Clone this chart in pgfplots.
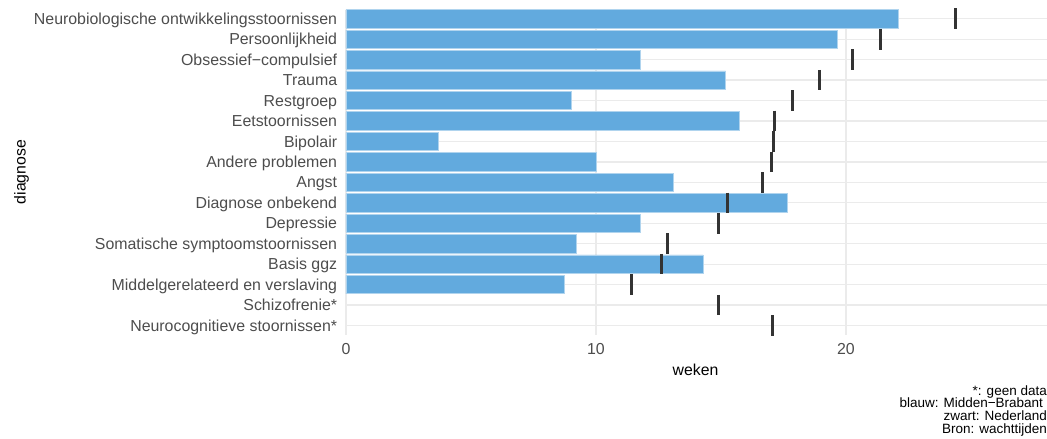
\documentclass[border=0pt]{standalone}
\usepackage{fontspec}
\setmainfont{Liberation Sans}
\usepackage{pgfplots}
\pgfplotsset{compat=1.18}
\usetikzlibrary{plotmarks}
\definecolor{barblue}{RGB}{98,170,222}
\definecolor{baredge}{RGB}{176,212,238}
\definecolor{marknl}{RGB}{51,51,51}
\definecolor{gridgray}{RGB}{235,235,235}
\definecolor{labgray}{RGB}{77,77,77}
\begin{document}
\begin{tikzpicture}
\useasboundingbox (-346bp,-104.3bp) rectangle (701bp,334.7bp);
\begin{axis}[
  at={(0,0)}, anchor=south west,
  width=701bp, height=325.1bp, scale only axis,
  xmin=0, xmax=28.04, ymin=0.55, ymax=16.45,
  axis line style={draw=none},
  major tick length=0pt,
  xtick={0,10,20}, ytick={1,...,16},
  yticklabels={Neurocognitieve stoornissen*, Schizofrenie*, Middelgerelateerd en verslaving, Basis ggz, Somatische symptoomstoornissen, Depressie, Diagnose onbekend, Angst, Andere problemen, Bipolair, Eetstoornissen, Restgroep, Trauma, Obsessief−compulsief, Persoonlijkheid, Neurobiologische ontwikkelingsstoornissen},
  grid=major, major grid style={gridgray, line width=1.3bp},
  /pgf/number format/assume math mode=true,
  ticklabel style={font=\fontsize{15.9bp}{18bp}\selectfont, text=labgray, inner sep=0pt},
  yticklabel style={anchor=base east, xshift=-8.7bp, yshift=-5.6bp},
  xticklabel style={anchor=base, yshift=-19.9bp},
  xlabel={weken}, ylabel={diagnose},
  label style={font=\fontsize{15.8bp}{18bp}\selectfont, text=black, inner sep=0pt},
  xlabel style={at={(axis description cs:0.4986,0)}, anchor=base, yshift=-40.3bp},
  ylabel style={at={(axis description cs:-0.4629,0.5)}, anchor=center, rotate=0},
  clip=false,
]
\addplot[xbar, bar width=0.9, fill=barblue, draw=baredge, line width=0.7bp] coordinates {
  (22.09,16) (19.64,15) (11.77,14) (15.19,13) (9.01,12) (15.73,11) (3.69,10)
  (10.03,9) (13.08,8) (17.67,7) (11.76,6) (9.20,5) (14.29,4) (8.72,3)
};
\addplot[only marks, mark=|, mark size=10.3bp, mark options={line width=3bp, draw=marknl}] coordinates {
  (24.39,16) (21.36,15) (20.25,14) (18.92,13) (17.87,12) (17.13,11) (17.08,10)
  (17.01,9) (16.65,8) (15.28,7) (14.91,6) (12.85,5) (12.63,4) (11.41,3)
  (14.91,2) (17.04,1)
};
\end{axis}
\begin{scope}[every node/.style={anchor=base east, inner sep=0pt, font=\fontsize{13.5bp}{14bp}\selectfont}]
\node at (701bp,-60.4bp) {*: geen data};
\node at (701bp,-73.2bp) {blauw: Midden−Brabant\kern0.28em};
\node at (701bp,-85.9bp) {zwart: Nederland};
\node at (701bp,-98.6bp) {Bron: wachttijden};
\end{scope}
\end{tikzpicture}
\end{document}
